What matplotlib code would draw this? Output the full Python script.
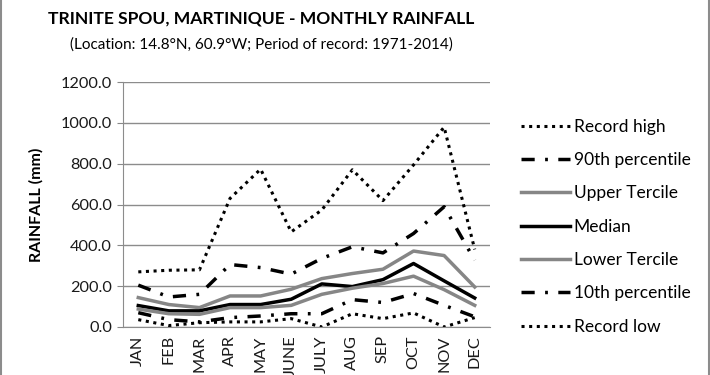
import numpy as np
import matplotlib
matplotlib.use("Agg")
import matplotlib.pyplot as plt
from matplotlib.patches import Rectangle

plt.rcParams["font.family"] = ["Lato", "DejaVu Sans"]

months = ["JAN", "FEB", "MAR", "APR", "MAY", "JUNE", "JULY", "AUG", "SEP", "OCT", "NOV", "DEC"]
record_high = [270, 278, 280, 630, 773, 466, 573, 770, 619, 794, 979, 380]
p90 = [205, 147, 160, 306, 291, 259, 336, 393, 363, 458, 589, 327]
upper_tercile = [144, 110, 95, 152, 152, 185, 237, 262, 283, 372, 350, 196]
median = [105, 79, 79, 110, 110, 136, 211, 198, 232, 311, 226, 142]
lower_tercile = [88, 65, 62, 95, 95, 106, 160, 190, 213, 249, 183, 106]
p10 = [70, 36, 25, 46, 54, 65, 65, 134, 120, 164, 106, 50]
record_low = [36, 7, 21, 25, 25, 41, 0, 65, 41, 69, 0, 46]

fig = plt.figure(figsize=(7.1, 3.75), dpi=100)
ax = fig.add_axes([123 / 710, 1 - 327 / 375, 367 / 710, 245 / 375])

x = np.arange(len(months))
dot = (0, (1, 1.5))
dashdot = (0, (3.8, 3.0, 0.8, 3.0))
ax.plot(x, record_high, color="black", lw=2.2, linestyle=dot, label="Record high")
ax.plot(x, p90, color="black", lw=2.5, linestyle=dashdot, label="90th percentile")
ax.plot(x, upper_tercile, color="#868686", lw=2.5, label="Upper Tercile")
ax.plot(x, median, color="black", lw=2.5, label="Median")
ax.plot(x, lower_tercile, color="#868686", lw=2.5, label="Lower Tercile")
ax.plot(x, p10, color="black", lw=2.5, linestyle=dashdot, label="10th percentile")
ax.plot(x, record_low, color="black", lw=2.2, linestyle=dot, label="Record low")

ax.set_xlim(-0.5, 11.5)
ax.set_ylim(0, 1200)
ax.set_yticks(np.arange(0, 1201, 200))
ax.set_yticklabels([f"{v:.1f}" for v in np.arange(0, 1201, 200)], fontsize=11.7, color="#1a1a1a")
ax.set_xticks(x)
ax.set_xticklabels(months, rotation=90, fontsize=11.7, color="#1a1a1a")
ax.tick_params(axis="x", length=0, pad=6)
ax.tick_params(axis="y", length=4, color="#888888", pad=4)
ax.grid(axis="y", color="#8c8c8c", lw=1)
ax.set_axisbelow(True)
for s in ["top", "right"]:
    ax.spines[s].set_visible(False)
for s in ["left", "bottom"]:
    ax.spines[s].set_color("#8c8c8c")
ax.set_ylabel("RAINFALL (mm)", fontsize=11.5, fontweight="bold", labelpad=12)

ax.legend(loc="upper left", bbox_to_anchor=(505 / 710, 1 - 103 / 375),
          bbox_transform=fig.transFigure, frameon=False, fontsize=12.5,
          handlelength=2.85, handletextpad=0.2, labelspacing=1.0)

fig.text(261 / 710, 1 - 18 / 375, "TRINITE SPOU, MARTINIQUE - MONTHLY RAINFALL",
         ha="center", va="center", fontsize=12.6, fontweight="bold")
fig.text(261 / 710, 1 - 45 / 375, "(Location: 14.8°N, 60.9°W; Period of record: 1971-2014)",
         ha="center", va="center", fontsize=11.0)

fig.patches.append(Rectangle((0.002, -0.01), 0.996, 1.1, transform=fig.transFigure,
                             fill=False, edgecolor="#8c8c8c", lw=1.5))

fig.savefig("out.png", dpi=100)
